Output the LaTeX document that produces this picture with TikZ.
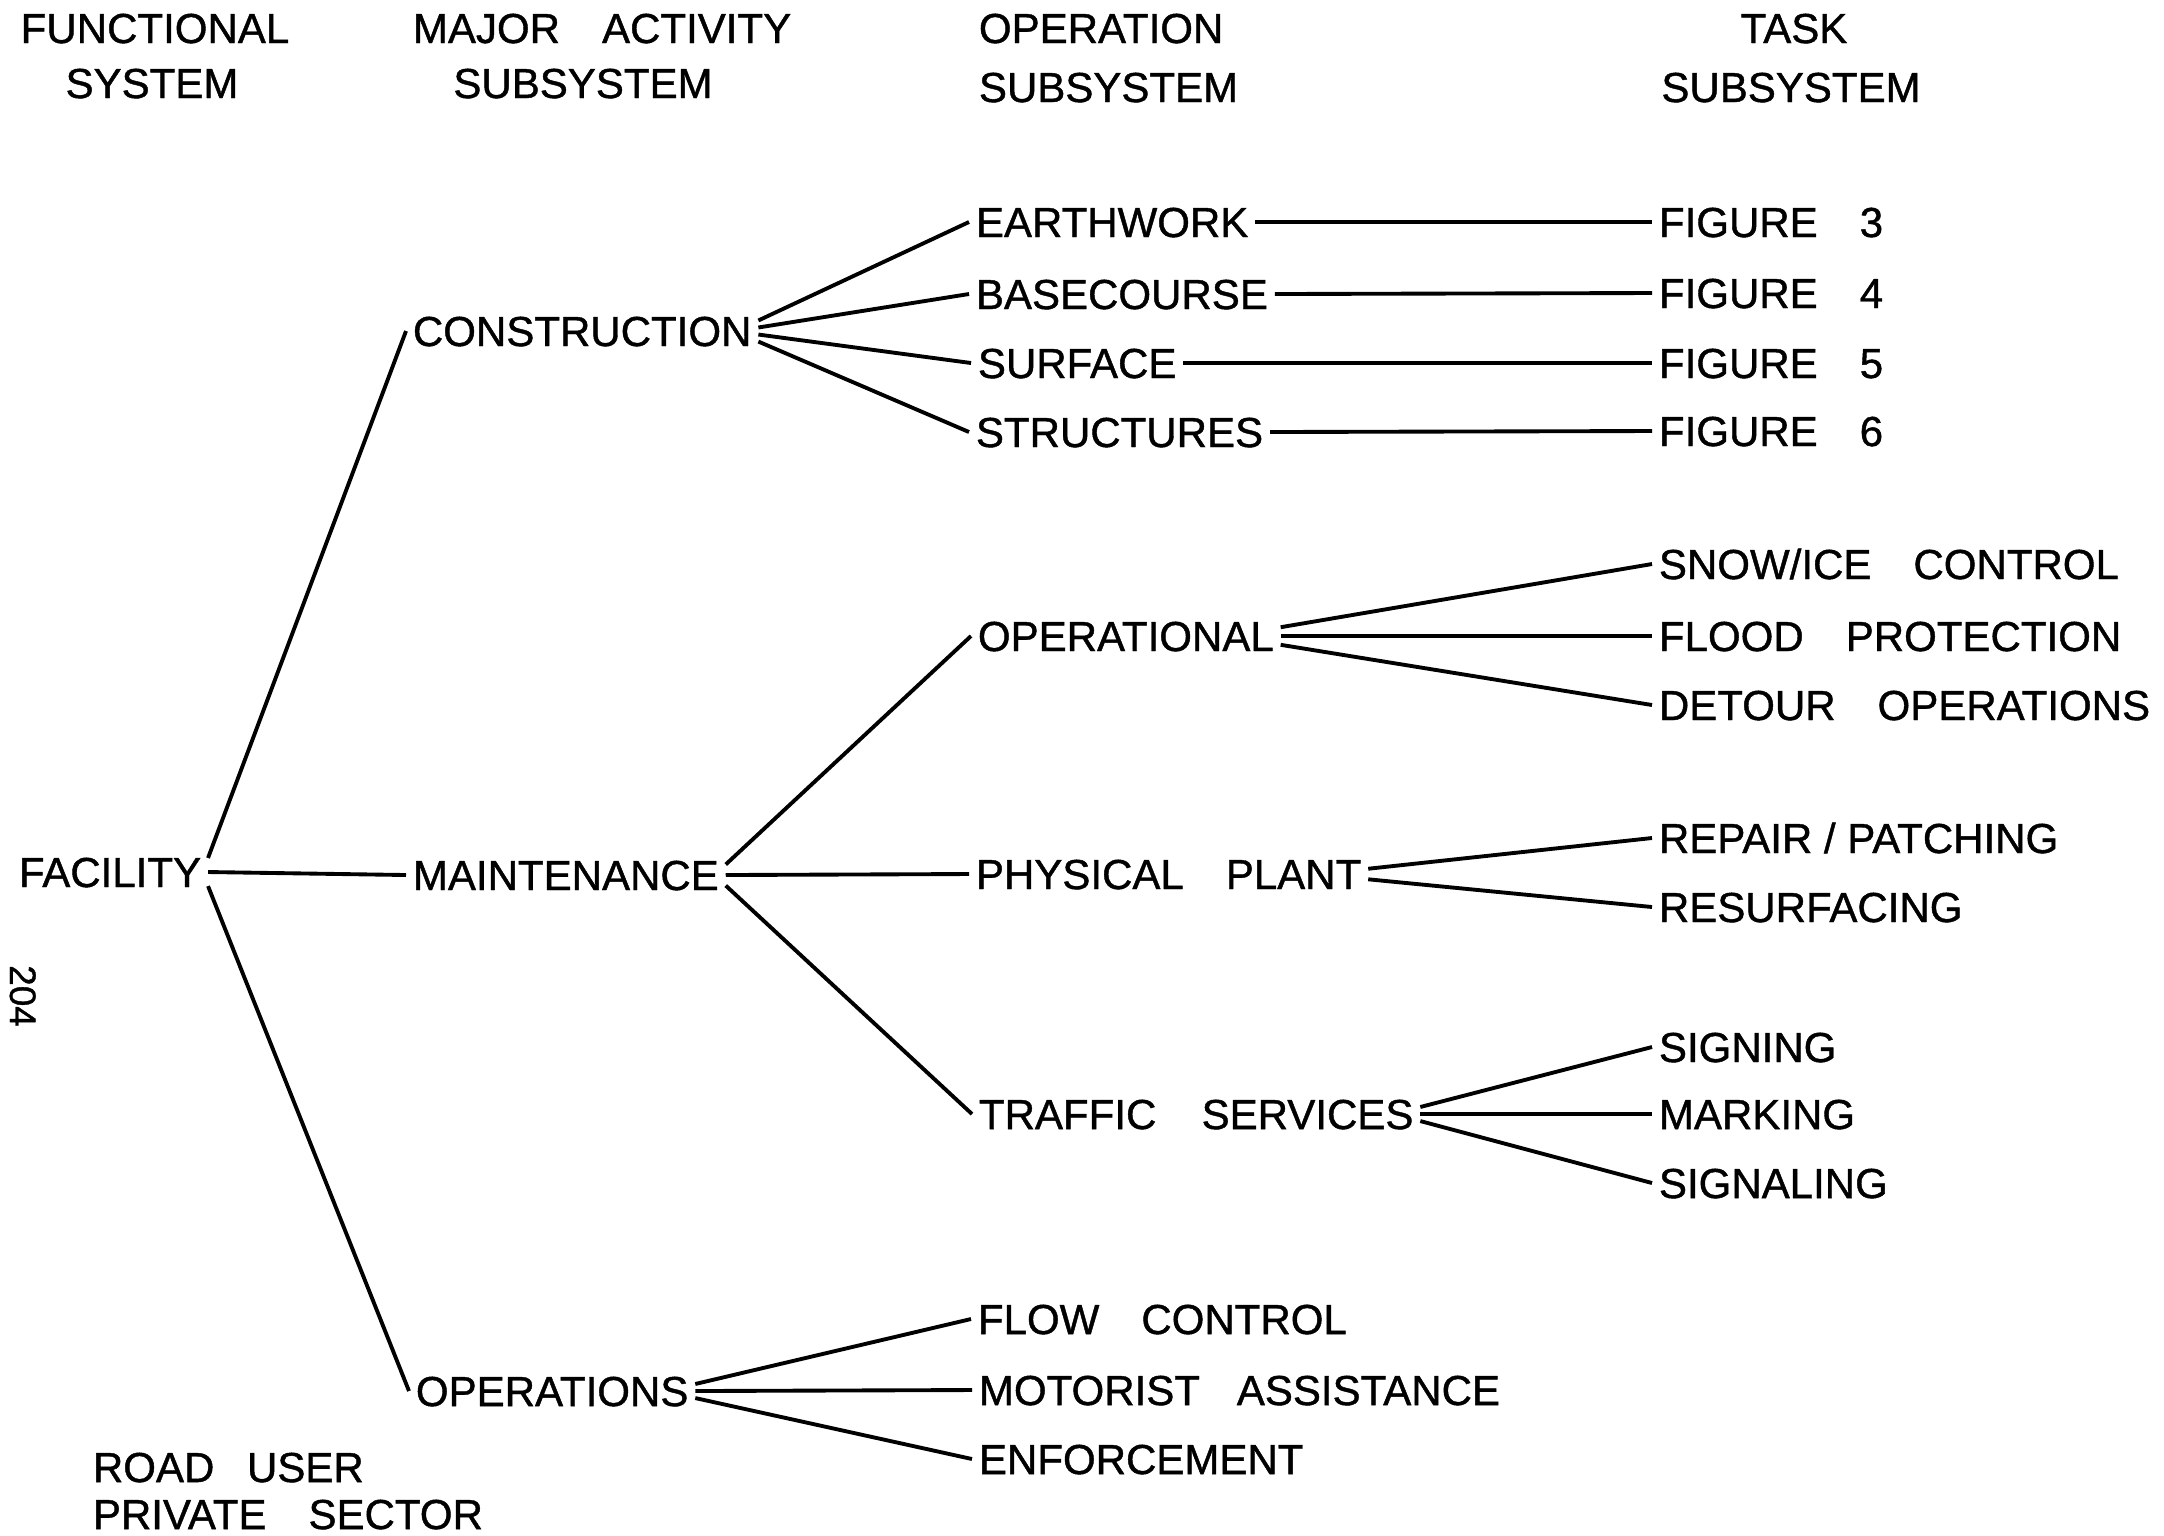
\documentclass[tikz,border=0pt]{standalone}
\usepackage{fontspec}
\setmainfont{Liberation Sans}[FakeBold=1]
\newcommand\wsp{\hspace{1em}}
\begin{document}
\begin{tikzpicture}[x=0.01cm,y=-0.01cm,line width=1.1pt,
  every node/.style={font=\fontsize{11.95}{14}\selectfont,text height=0.3cm,text depth=0pt,inner xsep=0.05cm,inner ysep=0pt,anchor=west},
  hdr/.style={anchor=center},
  link/.style={line width=1.1pt}]
\useasboundingbox (0,0) rectangle (2164,1535);
% headers
\node[hdr] (h1a) at (155,28) {FUNCTIONAL};
\node[hdr] (h1b) at (152,83) {SYSTEM};
\node (h2a) at (406,28) {MAJOR\wsp ACTIVITY};
\node[hdr] (h2b) at (583,83) {SUBSYSTEM};
\node (h3a) at (972,28) {OPERATION};
\node (h3b) at (972,87) {SUBSYSTEM};
\node[hdr] (h4a) at (1794,28) {TASK};
\node[hdr] (h4b) at (1791,87) {SUBSYSTEM};
% level 1-2
\node (fac) at (12,872) {FACILITY};
\node (con) at (406,331) {CONSTRUCTION};
\node (mai) at (406,875) {MAINTENANCE};
\node (ops) at (409,1391) {OPERATIONS};
% level 3
\node (ear) at (969,222) {EARTHWORK};
\node (bas) at (969,294) {BASECOURSE};
\node (sur) at (971,363) {SURFACE};
\node (str) at (969,432) {STRUCTURES};
\node (opl) at (971,636) {OPERATIONAL};
\node (phy) at (969,874) {PHYSICAL\wsp PLANT};
\node (tra) at (972,1114) {TRAFFIC\hspace{0.8em} SERVICES};
\node (flo) at (971,1319) {FLOW\wsp CONTROL};
\node (mot) at (972,1390) {MOTORIST\hspace{0.6em} ASSISTANCE};
\node (enf) at (972,1459) {ENFORCEMENT};
% level 4
\node (f3) at (1652,222) {FIGURE\wsp 3};
\node (f4) at (1652,293) {FIGURE\wsp 4};
\node (f5) at (1652,363) {FIGURE\wsp 5};
\node (f6) at (1652,431) {FIGURE\wsp 6};
\node (sno) at (1652,564) {SNOW/ICE\wsp CONTROL};
\node (fld) at (1652,636) {FLOOD\wsp PROTECTION};
\node (det) at (1652,705) {DETOUR\wsp OPERATIONS};
\node (rep) at (1652,838) {REPAIR / PATCHING};
\node (res) at (1652,907) {RESURFACING};
\node (sgn) at (1652,1047) {SIGNING};
\node (mrk) at (1652,1114) {MARKING};
\node (sgl) at (1652,1183) {SIGNALING};
% notes
\node (ru) at (86,1467) {ROAD\hspace{0.5em} USER};
\node (ps) at (86,1514) {PRIVATE\wsp SECTOR};
\node[anchor=center,rotate=-90,font=\fontsize{10.5}{12}\selectfont] (pg) at (25,996) {204};
% connectors
\draw[link] ([yshift=4pt]fac.east) -- (con.west);
\draw[link] (fac.east) -- (mai.west);
\draw[link] ([yshift=-4pt]fac.east) -- (ops.west);
\draw[link] ([yshift=3pt]con.east) -- (ear.west);
\draw[link] ([yshift=1pt]con.east) -- (bas.west);
\draw[link] ([yshift=-1pt]con.east) -- (sur.west);
\draw[link] ([yshift=-3pt]con.east) -- (str.west);
\draw[link] ([yshift=3pt]mai.east) -- (opl.west);
\draw[link] (mai.east) -- (phy.west);
\draw[link] ([yshift=-3pt]mai.east) -- (tra.west);
\draw[link] ([yshift=2pt]ops.east) -- (flo.west);
\draw[link] (ops.east) -- (mot.west);
\draw[link] ([yshift=-2pt]ops.east) -- (enf.west);
\draw[link] (ear.east) -- (f3.west);
\draw[link] (bas.east) -- (f4.west);
\draw[link] (sur.east) -- (f5.west);
\draw[link] (str.east) -- (f6.west);
\draw[link] ([yshift=2.5pt]opl.east) -- (sno.west);
\draw[link] (opl.east) -- (fld.west);
\draw[link] ([yshift=-2.5pt]opl.east) -- (det.west);
\draw[link] ([yshift=1.5pt]phy.east) -- (rep.west);
\draw[link] ([yshift=-1.5pt]phy.east) -- (res.west);
\draw[link] ([yshift=2pt]tra.east) -- (sgn.west);
\draw[link] (tra.east) -- (mrk.west);
\draw[link] ([yshift=-2pt]tra.east) -- (sgl.west);
\end{tikzpicture}
\end{document}
